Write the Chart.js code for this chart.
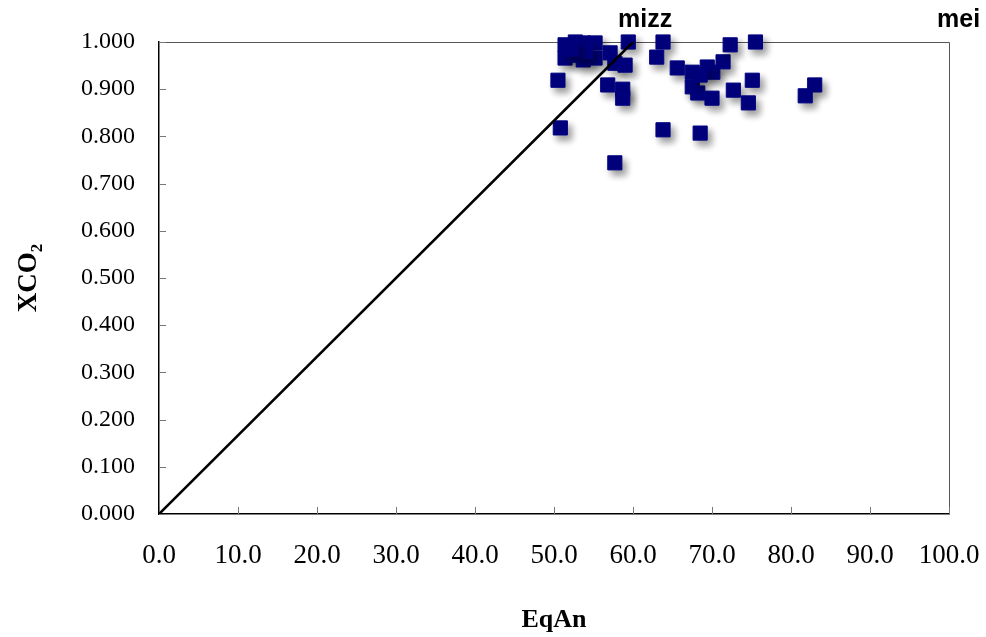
<!DOCTYPE html>
<html>
<head>
<meta charset="utf-8">
<script src="https://cdn.jsdelivr.net/npm/chart.js@4/dist/chart.umd.min.js"></script>
<style>
  html, body { margin: 0; padding: 0; background: #fff; }
  #wrap { width: 986px; height: 637px; position: relative; }
</style>
</head>
<body>
<div id="wrap"><canvas id="chart" width="986" height="637"></canvas></div>
<script>
// EqAn vs XCO2 samples
const eqAn = [
  51.4, 51.4, 52.7, 52.7, 53.7, 53.7, 55.2, 55.2, 57.1, 57.7,
  59.4, 59.0, 50.5, 56.8, 58.7, 58.7, 50.8, 57.7, 63.8, 68.5,
  63.8, 63.0, 65.6, 67.5, 69.4, 70.1, 71.4, 72.3, 75.5, 67.5,
  68.2, 70.0, 72.7, 75.1, 74.6, 83.0, 81.8, 68.5, 54.0, 52.2
]
const xco2 = [
  0.994, 0.966, 1.000, 0.972, 0.998, 0.962, 0.998, 0.966, 0.977, 0.955,
  1.000, 0.951, 0.919, 0.909, 0.900, 0.881, 0.818, 0.744, 0.814, 0.807,
  1.000, 0.968, 0.945, 0.936, 0.947, 0.936, 0.958, 0.994, 1.000, 0.905,
  0.892, 0.881, 0.898, 0.919, 0.871, 0.909, 0.886, 0.930, 0.980, 0.985
]

// reference line
const lineX = [0, 60]
const lineY = [0, 1]

const xTitle = "EqAn"
const yTitle = ["XCO", "2"]
const notes = [
  { text: "mizz", x: 618, y: 20 },
  { text: "mei", x: 937, y: 20 }
]

const points = eqAn.map((x, i) => ({ x: x, y: xco2[i] }))
const linePts = lineX.map((x, i) => ({ x: x, y: lineY[i] }))

/* ---------- shadow under the markers ---------- */
const shadowPlugin = {
  id: "markerShadow",
  beforeDatasetDraw(chart, args) {
    if (args.index !== 1) return
    const ctx = chart.ctx
    ctx.save()
    ctx.shadowColor = "rgba(0,0,0,0.4)"
    ctx.shadowBlur = 7
    ctx.shadowOffsetX = 4
    ctx.shadowOffsetY = 5
  },
  afterDatasetDraw(chart, args) {
    if (args.index !== 1) return
    chart.ctx.restore()
  }
}

/* ---------- frame, inward ticks, y title, notes ---------- */
const framePlugin = {
  id: "frame",
  beforeDatasetsDraw(chart) {
    const ctx = chart.ctx
    const a = chart.chartArea
    const xs = chart.scales.x
    const ys = chart.scales.y
    ctx.save()

    ctx.strokeStyle = "#555"
    ctx.lineWidth = 1
    ctx.beginPath()
    ctx.moveTo(a.left, a.top + 0.5)
    ctx.lineTo(a.right + 0.5, a.top + 0.5)
    ctx.lineTo(a.right + 0.5, a.bottom)
    ctx.stroke()

    ctx.strokeStyle = "#777"
    ctx.beginPath()
    ys.ticks.forEach(t => {
      const py = Math.round(ys.getPixelForValue(t.value)) + 0.5
      ctx.moveTo(a.left, py)
      ctx.lineTo(a.left + 7, py)
    })
    xs.ticks.forEach(t => {
      const px = Math.round(xs.getPixelForValue(t.value)) + 0.5
      ctx.moveTo(px, a.bottom)
      ctx.lineTo(px, a.bottom - 7)
    })
    ctx.stroke()
    ctx.restore()
  },
  afterDraw(chart) {
    const ctx = chart.ctx
    const a = chart.chartArea
    ctx.save()
    // y axis title with subscript
    ctx.fillStyle = "#000"
    ctx.translate(36, (a.top + a.bottom) / 2)
    ctx.rotate(-Math.PI / 2)
    ctx.font = "bold 27px 'Liberation Serif', 'Times New Roman', serif"
    const w1 = ctx.measureText(yTitle[0]).width
    ctx.font = "bold 17px 'Liberation Serif', 'Times New Roman', serif"
    const w2 = ctx.measureText(yTitle[1]).width
    const start = -(w1 + w2) / 2
    ctx.textBaseline = "alphabetic"
    ctx.textAlign = "left"
    ctx.font = "bold 27px 'Liberation Serif', 'Times New Roman', serif"
    ctx.fillText(yTitle[0], start, 0)
    ctx.font = "bold 17px 'Liberation Serif', 'Times New Roman', serif"
    ctx.fillText(yTitle[1], start + w1, 6)
    ctx.restore()

    ctx.save()
    ctx.fillStyle = "#000"
    ctx.font = "bold 25px 'Liberation Sans', Arial, sans-serif"
    ctx.textBaseline = "middle"
    ctx.textAlign = "left"
    notes.forEach(n => ctx.fillText(n.text, n.x, n.y))
    ctx.restore()
  }
}

new Chart(document.getElementById("chart"), {
  type: "scatter",
  data: {
    datasets: [
      {
        type: "line",
        order: 0,
        data: linePts,
        borderColor: "#000",
        borderWidth: 2.6,
        pointRadius: 0,
        fill: false
      },
      {
        order: 1,
        data: points,
        clip: false,
        pointStyle: "rect",
        pointRadius: 10,
        backgroundColor: "#000080",
        borderColor: "#000080",
        borderWidth: 1
      }
    ]
  },
  options: {
    responsive: false,
    animation: false,
    layout: { padding: { top: 42, right: 37, left: 0, bottom: 0 } },
    plugins: {
      legend: { display: false },
      tooltip: { enabled: false }
    },
    scales: {
      x: {
        type: "linear",
        min: 0,
        max: 100,
        afterFit(scale) {
          scale.height = 123
          scale.paddingLeft = 0
          scale.paddingRight = 0
        },
        grid: { display: false, drawTicks: false },
        border: { display: true, color: "#000", width: 1.5 },
        ticks: {
          stepSize: 10,
          padding: 26,
          color: "#000",
          maxRotation: 0,
          font: { family: "'Liberation Serif', 'Times New Roman', serif", size: 27 },
          callback: v => v.toFixed(1)
        },
        title: {
          display: true,
          text: xTitle,
          color: "#000",
          padding: { top: 0, bottom: 1 },
          font: { family: "'Liberation Serif', 'Times New Roman', serif", size: 26, weight: "bold" }
        }
      },
      y: {
        type: "linear",
        min: 0,
        max: 1,
        afterFit(scale) {
          scale.width = 159
          scale.paddingTop = 0
          scale.paddingBottom = 0
        },
        grid: { display: false, drawTicks: false },
        border: { display: true, color: "#000", width: 1.5 },
        ticks: {
          stepSize: 0.1,
          padding: 24,
          color: "#000",
          font: { family: "'Liberation Serif', 'Times New Roman', serif", size: 24 },
          callback: v => v.toFixed(3)
        }
      }
    }
  },
  plugins: [shadowPlugin, framePlugin]
})
</script>
</body>
</html>
